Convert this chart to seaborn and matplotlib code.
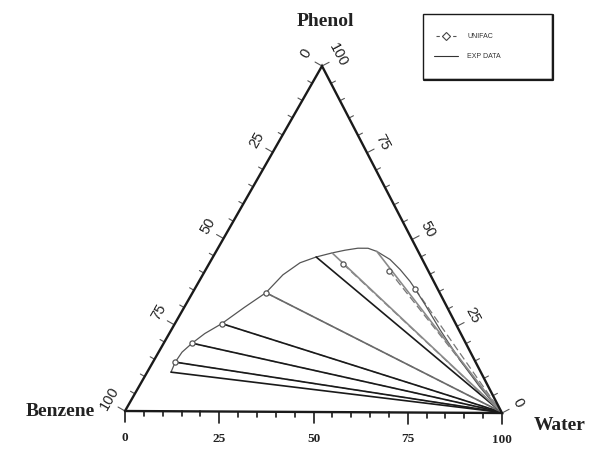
import numpy as np
import pandas as pd
import matplotlib
matplotlib.use("Agg")
import matplotlib.pyplot as plt
from matplotlib.patches import Rectangle
import seaborn as sns

# compositions in %: water, phenol (benzene = rest)
curve_water = [6.3, 5.9, 6.2, 7.5, 9.4, 12.4, 15.9, 19.4, 21.2, 23.9, 27.3, 30.9, 33.9,
               37.0, 39.7, 42.5, 47.2, 51.4, 55.8, 58.2, 63.3, 71.0, 80.8, 90.2, 99.5]
curve_phenol = [11.3, 14.2, 17.1, 19.7, 22.5, 25.4, 30.1, 34.4, 39.6, 43.1, 44.8, 46.0, 46.8,
                47.4, 47.4, 46.5, 44.2, 41.3, 37.9, 35.8, 31.2, 24.0, 15.3, 7.5, 0.3]

# experimental tie lines (organic end -> aqueous end)
exp_org_water = [6.3, 5.9, 7.5, 12.4, 19.4, 27.3, 30.9, 42.5]
exp_org_phenol = [11.3, 14.2, 19.7, 25.4, 34.4, 44.8, 46.0, 46.5]
exp_aq_water = [99.6, 99.6, 99.5, 99.5, 99.4, 99.3, 99.2, 99.2]
exp_aq_phenol = [0.2, 0.2, 0.3, 0.3, 0.4, 0.5, 0.6, 0.6]

# UNIFAC tie lines
uni_org_water = [5.9, 7.5, 12.4, 19.4, 35.5, 48.6, 58.2]
uni_org_phenol = [14.2, 19.7, 25.4, 34.4, 42.8, 41.0, 35.8]
uni_aq_water = [99.6, 99.5, 99.5, 99.4, 99.3, 99.2, 99.1]
uni_aq_phenol = [0.2, 0.3, 0.3, 0.4, 0.5, 0.6, 0.7]

tick_labels = ["0", "25", "50", "75", "100"]

# triangle corners in figure pixels (benzene, water, phenol)
B = np.array([125.0, 411.0])
W = np.array([502.0, 413.0])
P = np.array([322.0, 66.0])


def to_xy(water, phenol):
    w = np.asarray(water) / 100.0
    p = np.asarray(phenol) / 100.0
    x = B[0] + w * (W[0] - B[0]) + p * (P[0] - B[0])
    y = B[1] + w * (W[1] - B[1]) + p * (P[1] - B[1])
    return x, y


sns.set_style("white")
fig = plt.figure(figsize=(5.97, 4.51), dpi=100)
ax = fig.add_axes([0, 0, 1, 1])
ax.set_xlim(0, 597)
ax.set_ylim(451, 0)
ax.axis("off")

# triangle
tri = np.array([B, W, P, B])
ax.plot(tri[:, 0], tri[:, 1], color="#1a1a1a", lw=1.7, solid_joinstyle="miter", zorder=6)

# ticks
def unit(v):
    return v / np.hypot(*v)

d_left = unit(P - B)
n_left = np.array([d_left[1], -d_left[0]])
d_right = unit(W - P)
n_right = np.array([-d_right[1], d_right[0]])
n_left = -n_left if n_left[0] > 0 else n_left
n_right = -n_right if n_right[0] < 0 else n_right

for v in range(0, 101, 5):
    major = v % 25 == 0
    # bottom: water %
    bx, by = to_xy(v, 0)
    L = 11 if major else 5
    ax.plot([bx, bx], [by, by + L], color="#1a1a1a", lw=1.2)
    # left: benzene % (0 at top)
    lx, ly = to_xy(0, 100 - v)
    L = 8 if major else 5
    ax.plot([lx, lx + n_left[0] * L], [ly, ly + n_left[1] * L], color="#555555", lw=0.8)
    # right: phenol %
    rx, ry = to_xy(100 - v, v)
    ax.plot([rx, rx + n_right[0] * L], [ry, ry + n_right[1] * L], color="#555555", lw=0.8)

for i, lab in enumerate(tick_labels):
    v = i * 25
    bx, by = to_xy(v, 0)
    ax.text(bx, by + 27, lab, ha="center", va="center", fontsize=9.5,
            fontweight="bold", family="Liberation Serif", color="#222222")
    lx, ly = to_xy(0, 100 - v)
    pos = np.array([lx, ly]) + n_left * 20 + d_left * 3
    ax.text(pos[0], pos[1], lab, ha="center", va="center", fontsize=10.5,
            rotation=60, family="Liberation Sans", color="#222222")
    rx, ry = to_xy(100 - v, v)
    pos = np.array([rx, ry]) + n_right * 19 - d_right * 2
    ax.text(pos[0], pos[1], lab, ha="center", va="center", fontsize=10.5,
            rotation=-62, family="Liberation Sans", color="#222222")

# vertex names
ax.text(325, 22, "Phenol", ha="center", va="center", fontsize=14, fontweight="bold",
        family="Liberation Serif", color="#222222")
ax.text(60, 412, "Benzene", ha="center", va="center", fontsize=14, fontweight="bold",
        family="Liberation Serif", color="#222222")
ax.text(560, 426, "Water", ha="center", va="center", fontsize=14, fontweight="bold",
        family="Liberation Serif", color="#222222")

# binodal curve
cx, cy = to_xy(curve_water, curve_phenol)
curve = pd.DataFrame({"x": cx, "y": cy})
sns.lineplot(data=curve, x="x", y="y", sort=False, estimator=None, color="#555555",
             lw=0.9, ax=ax)

# UNIFAC tie lines (under the experimental ones)
rows = []
for k in range(len(uni_org_water)):
    x0, y0 = to_xy(uni_org_water[k], uni_org_phenol[k])
    x1, y1 = to_xy(uni_aq_water[k], uni_aq_phenol[k])
    rows += [(k, x0, y0), (k, x1, y1)]
uni_df = pd.DataFrame(rows, columns=["line", "x", "y"])
for k, g in uni_df.groupby("line"):
    ax.plot(g["x"], g["y"], color="#777777", lw=0.9, dashes=(6, 3), zorder=1)

# experimental tie lines
rows = []
for k in range(len(exp_org_water)):
    x0, y0 = to_xy(exp_org_water[k], exp_org_phenol[k])
    x1, y1 = to_xy(exp_aq_water[k], exp_aq_phenol[k])
    rows += [(k, x0, y0), (k, x1, y1)]
exp_df = pd.DataFrame(rows, columns=["line", "x", "y"])
exp_colors = ["#1a1a1a", "#1a1a1a", "#1a1a1a", "#1a1a1a", "#6a6a6a", "#1a1a1a", "#8a8a8a", "#8a8a8a"]
sns.lineplot(data=exp_df, x="x", y="y", hue="line", palette=exp_colors, units="line",
             estimator=None, sort=False, lw=1.2, legend=False, ax=ax, zorder=3)

ux, uy = to_xy(uni_org_water, uni_org_phenol)
sns.scatterplot(x=ux, y=uy, marker="o", s=14, facecolor="white", edgecolor="#555555",
                linewidth=0.9, zorder=5, ax=ax)

# legend box
ax.add_patch(Rectangle((423, 14), 129, 65, fill=False, edgecolor="#1a1a1a", lw=1.0))
ax.plot([424, 552.5, 552.5], [79.5, 79.5, 15], color="#1a1a1a", lw=1.6)
ax.plot([436, 457], [36, 36], color="#555555", lw=0.8, dashes=(3, 2))
ax.plot([446], [36], marker="D", ms=4.5, mfc="white", mec="#444444", mew=0.8)
ax.text(467, 36, "UNIFAC", ha="left", va="center", fontsize=5, family="Liberation Sans",
        color="#333333")
ax.plot([434, 458], [56, 56], color="#333333", lw=0.8)
ax.text(467, 56, "EXP DATA", ha="left", va="center", fontsize=5, family="Liberation Sans",
        color="#333333")

fig.savefig("out.png", dpi=100)
